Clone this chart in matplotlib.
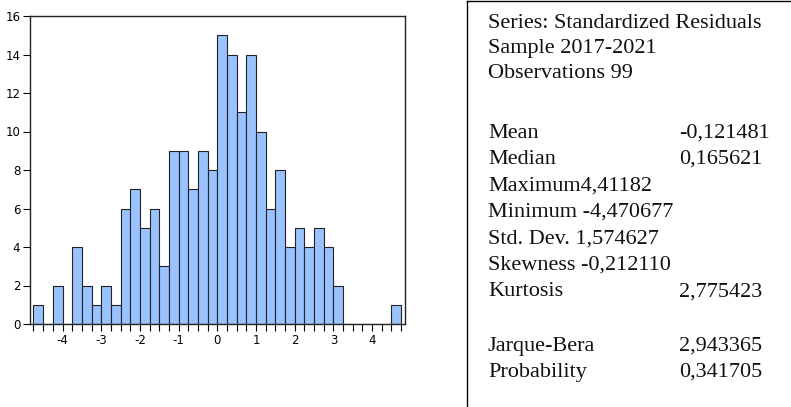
import numpy as np
import matplotlib.pyplot as plt
from matplotlib.lines import Line2D
from matplotlib.ticker import MultipleLocator

# histogram bins (width 0.25) and counts
bin_start = -4.75
bin_width = 0.25
counts = [1, 0, 2, 0, 4, 2, 1, 2, 1, 6, 7, 5, 6, 3, 9, 9, 7, 9, 8,
          15, 14, 11, 14, 10, 6, 8, 4, 5, 4, 5, 4, 2,
          0, 0, 0, 0, 0, 1]

stat_labels = ["Mean", "Median", "Maximum4,41182", "Minimum -4,470677",
               "Std. Dev. 1,574627", "Skewness -0,212110", "Kurtosis"]
stat_values = ["-0,121481", "0,165621", "", "", "", "", "2,775423"]
test_labels = ["Jarque-Bera", "Probability"]
test_values = ["2,943365", "0,341705"]
header = ["Series: Standardized Residuals", "Sample 2017-2021", "Observations 99"]

plt.rcParams['axes.unicode_minus'] = False

W, H = 791, 407
fig = plt.figure(figsize=(W / 100, H / 100), dpi=100)
ax = fig.add_axes([30 / W, 1 - 324 / H, 375 / W, 308 / H])

edges = bin_start + bin_width * np.arange(len(counts))
ax.bar(edges, counts, width=bin_width, align='edge', color='#99c2ff',
       edgecolor='#222222', linewidth=0.8)

ax.set_xlim(-4.84, 4.85)
ax.set_ylim(0, 16)
ax.set_yticks(range(0, 17, 2))
ax.set_xticks(range(-4, 5))
ax.xaxis.set_minor_locator(MultipleLocator(0.25))
ax.tick_params(axis='both', which='major', length=5, width=0.8, labelsize=8.5, pad=2)
ax.tick_params(axis='x', which='minor', length=5, width=0.8)
for lab in ax.get_xticklabels() + ax.get_yticklabels():
    lab.set_family(['Liberation Sans Narrow', 'DejaVu Sans'])
for s in ax.spines.values():
    s.set_linewidth(1.0)
    s.set_color('#222222')

# statistics panel
fig.add_artist(Line2D([467 / W, 467 / W], [0, 1 - 1 / H], color='black', lw=1.0))
fig.add_artist(Line2D([467 / W, 1], [1 - 1 / H, 1 - 1 / H], color='black', lw=1.0))

font = dict(family=['Liberation Serif', 'DejaVu Serif'], fontsize=16, va='center', color='#111111')
x0, x1 = 488 / W, 679 / W
for i, t in enumerate(header):
    fig.text(x0, 1 - (24 + i * 24.5) / H, t, **font)
for i, (t, v) in enumerate(zip(stat_labels, stat_values)):
    y = 1 - (133 + i * 26.5) / H
    fig.text(x0, y, t, **font)
    fig.text(x1, y, v, **font)
for i, (t, v) in enumerate(zip(test_labels, test_values)):
    y = 1 - (346 + i * 26.5) / H
    fig.text(x0, y, t, **font)
    fig.text(x1, y, v, **font)

fig.savefig('out.png', dpi=100)
